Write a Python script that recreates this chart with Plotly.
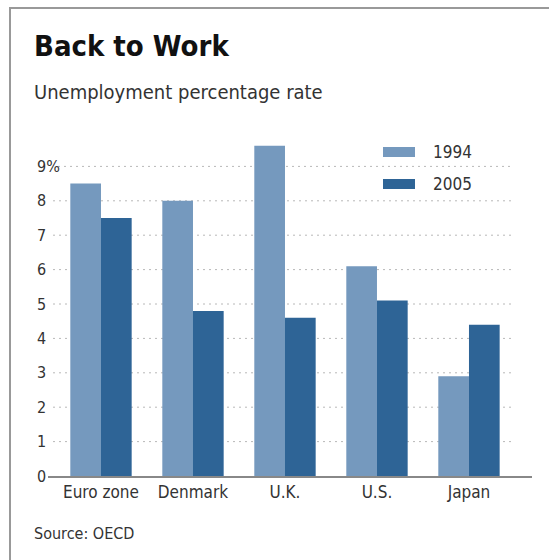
import plotly.graph_objects as go

# ---- data ----
categories = ["Euro zone", "Denmark", "U.K.", "U.S.", "Japan"]
series_names = ["1994", "2005"]
values_1994 = [8.5, 8.0, 9.6, 6.1, 2.9]
values_2005 = [7.5, 4.8, 4.6, 5.1, 4.4]
y_ticks = [0, 1, 2, 3, 4, 5, 6, 7, 8, 9]
y_tick_labels = ["0", "1", "2", "3", "4", "5", "6", "7", "8", "9%"]
title_text = "Back to Work"
subtitle_text = "Unemployment percentage rate"
source_text = "Source: OECD"

colors = ["#7599be", "#2e6496"]
FONT = "DejaVu Sans Condensed, Liberation Sans Narrow, Roboto Condensed, Arial Narrow, sans-serif"
TXT = "#333333"

W, H = 549, 560
L, R, T, B = 48, 17, 140, 84
PW, PH = W - L - R, H - T - B


def px_x(px):
    return (px - L) / PW


def px_y(py):
    return (H - B - py) / PH


fig = go.Figure()
for name, vals, col in zip(series_names, [values_1994, values_2005], colors):
    fig.add_trace(go.Bar(x=categories, y=vals, name=name, marker=dict(color=col, line=dict(width=0)),
                         showlegend=False))

shapes = []
annotations = []

# dotted gridlines
for v in y_ticks[1:]:
    x0 = px_x(58) if v == y_ticks[-1] else px_x(53)
    shapes.append(dict(type="line", xref="paper", yref="y", x0=x0, x1=px_x(512), y0=v, y1=v,
                       line=dict(color="#b8b8b8", width=1, dash="2px,4px"), layer="below"))

# y tick labels
for v, t in zip(y_ticks, y_tick_labels):
    annotations.append(dict(xref="paper", yref="y", x=px_x(35), y=v, text=t, showarrow=False,
                            xanchor="left", yanchor="middle",
                            font=dict(family=FONT, size=16, color=TXT)))

# frame (top and left)
shapes.append(dict(type="line", xref="paper", yref="paper", x0=px_x(9), x1=px_x(560),
                   y0=px_y(8), y1=px_y(8), line=dict(color="#999999", width=2)))
shapes.append(dict(type="line", xref="paper", yref="paper", x0=px_x(10), x1=px_x(10),
                   y0=px_y(8), y1=px_y(570), line=dict(color="#999999", width=2)))

# legend
for i, (name, col) in enumerate(zip(series_names, colors)):
    cy = 152 + i * 32
    shapes.append(dict(type="rect", xref="paper", yref="paper", x0=px_x(383), x1=px_x(415),
                       y0=px_y(cy - 5), y1=px_y(cy + 5), fillcolor=col, line=dict(width=0)))
    annotations.append(dict(xref="paper", yref="paper", x=px_x(431), y=px_y(cy), text=name,
                            showarrow=False, xanchor="left", yanchor="middle",
                            font=dict(family=FONT, size=17, color=TXT)))

# title, subtitle, source
annotations.append(dict(xref="paper", yref="paper", x=px_x(32), y=px_y(46), text="<b>" + title_text + "</b>",
                        showarrow=False, xanchor="left", yanchor="middle",
                        font=dict(family=FONT, size=29, color="#111111")))
annotations.append(dict(xref="paper", yref="paper", x=px_x(32), y=px_y(92), text=subtitle_text,
                        showarrow=False, xanchor="left", yanchor="middle",
                        font=dict(family=FONT, size=20, color=TXT)))
annotations.append(dict(xref="paper", yref="paper", x=px_x(32), y=px_y(533), text=source_text,
                        showarrow=False, xanchor="left", yanchor="middle",
                        font=dict(family=FONT, size=16, color=TXT)))

fig.update_layout(
    width=W, height=H,
    margin=dict(l=L, r=R, t=T, b=B, pad=0),
    paper_bgcolor="white", plot_bgcolor="white",
    barmode="group", bargap=0.333, bargroupgap=0,
    shapes=shapes, annotations=annotations,
    xaxis=dict(range=[-0.576, 4.685], showline=True, linecolor="#888888", linewidth=2,
               showgrid=False, ticks="", zeroline=False,
               tickfont=dict(family=FONT, size=17, color=TXT)),
    yaxis=dict(range=[0, PH / 34.4], showgrid=False, zeroline=False, showticklabels=False,
               ticks=""),
)

fig.write_html("out.html")
